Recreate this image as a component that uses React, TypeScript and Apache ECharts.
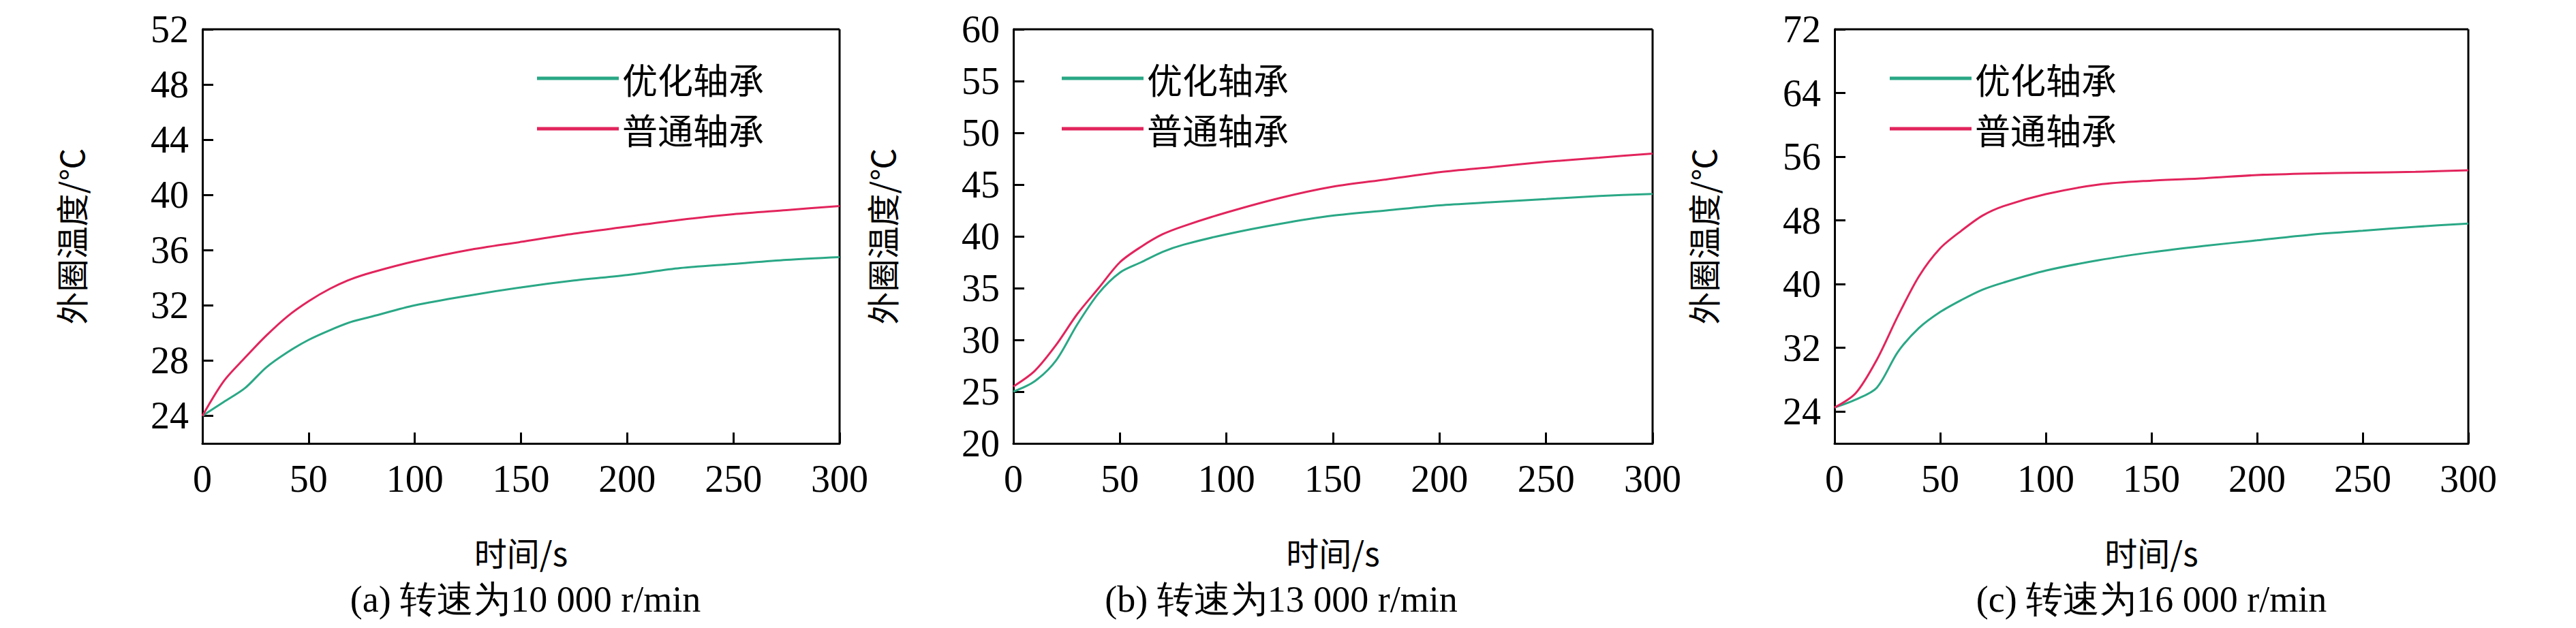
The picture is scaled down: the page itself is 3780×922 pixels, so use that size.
import React, { useEffect, useRef } from "react";
import * as echarts from "echarts";

const tA = [0, 10, 20, 30, 40, 50, 60, 70, 80, 100, 125, 150, 175, 200, 225, 250, 275, 300];
const aNormal = [24, 26.5, 28.2, 29.8, 31.2, 32.3, 33.2, 33.9, 34.4, 35.2, 36, 36.6, 37.2, 37.7, 38.2, 38.6, 38.9, 39.2];
const aOpt = [24, 25, 26, 27.5, 28.6, 29.5, 30.2, 30.8, 31.2, 32, 32.7, 33.3, 33.8, 34.2, 34.7, 35, 35.3, 35.5];
const bNormal = [25.5, 27, 29.5, 32.5, 35, 37.5, 39, 40.2, 41, 42.3, 43.7, 44.8, 45.5, 46.2, 46.7, 47.2, 47.6, 48];
const bOpt = [25, 26, 28, 31.5, 34.5, 36.5, 37.5, 38.5, 39.2, 40.2, 41.2, 42, 42.5, 43, 43.3, 43.6, 43.9, 44.1];
const cNormal = [24.5, 26.3, 30.5, 36, 41, 44.5, 46.7, 48.6, 49.8, 51.3, 52.5, 53, 53.3, 53.7, 53.9, 54, 54.1, 54.3];
const cOpt = [24.5, 25.5, 27, 31.5, 34.5, 36.5, 38, 39.3, 40.2, 41.7, 43, 44, 44.8, 45.5, 46.2, 46.7, 47.2, 47.6];

const yTicksA = [24, 28, 32, 36, 40, 44, 48, 52];
const yTicksC = [24, 32, 40, 48, 56, 64, 72];
const captions = ["(a) 转速为10 000 r/min", "(b) 转速为13 000 r/min", "(c) 转速为16 000 r/min"];

const GREEN = "#2aa886";
const RED = "#e2245c";
const SERIF = "Liberation Serif";
const CJK = "Noto Sans CJK SC";

const grids = [
  { left: 297, width: 935, cx: 771 },
  { left: 1487, width: 938, cx: 1880 },
  { left: 2692, width: 930, cx: 3157 },
];

const App = () => {
  const ref = useRef<HTMLDivElement>(null);

  useEffect(() => {
    document.body.style.margin = "0";
    if (!ref.current) return;
    const chart = echarts.init(ref.current, null, { renderer: "svg" });
    const lineStyle = { color: "#000", width: 3 };
    const tickLabel = { fontFamily: SERIF, fontSize: 56, color: "#000" };
    const nameStyle = { fontFamily: CJK, fontSize: 48, color: "#000" };

    const yAxes = [
      { min: 22, max: 52, ticks: yTicksA },
      { min: 20, max: 60, interval: 5 },
      { min: 20, max: 72, ticks: yTicksC },
    ].map((y, i) => ({
      type: "value",
      gridIndex: i,
      min: y.min,
      max: y.max,
      interval: y.interval,
      name: "外圈温度/℃",
      nameLocation: "middle",
      nameGap: 170,
      nameTextStyle: nameStyle,
      axisLine: { show: true, lineStyle },
      axisTick: {
        show: true,
        inside: true,
        length: 16,
        lineStyle,
        ...(y.ticks ? { customValues: y.ticks } : {}),
      },
      axisLabel: { ...tickLabel, margin: 20, ...(y.ticks ? { customValues: y.ticks } : {}) },
      splitLine: { show: false },
    }));

    const xAxes = grids.map((_, i) => ({
      type: "value",
      gridIndex: i,
      min: 0,
      max: 300,
      interval: 50,
      name: "时间/s",
      nameLocation: "middle",
      nameGap: 135,
      nameTextStyle: nameStyle,
      axisLine: { show: true, lineStyle },
      axisTick: { show: true, inside: true, length: 16, lineStyle },
      axisLabel: { ...tickLabel, margin: 24 },
      splitLine: { show: false },
    }));

    const pairs = [
      [aOpt, aNormal],
      [bOpt, bNormal],
      [cOpt, cNormal],
    ];
    const series: any[] = [];
    pairs.forEach(([opt, normal], i) => {
      series.push({
        name: "优化轴承",
        type: "line",
        xAxisIndex: i,
        yAxisIndex: i,
        data: tA.map((t, k) => [t, opt[k]]),
        showSymbol: false,
        smooth: 0.3,
        lineStyle: { color: GREEN, width: 3 },
        itemStyle: { color: GREEN },
      });
      series.push({
        name: "普通轴承",
        type: "line",
        xAxisIndex: i,
        yAxisIndex: i,
        data: tA.map((t, k) => [t, normal[k]]),
        showSymbol: false,
        smooth: 0.3,
        lineStyle: { color: RED, width: 3 },
        itemStyle: { color: RED },
      });
    });

    const legendLeft = [783, 1553, 2768];

    chart.setOption({
      animation: false,
      grid: grids.map((g) => ({ left: g.left, width: g.width, top: 43, height: 608 })),
      xAxis: xAxes,
      yAxis: yAxes,
      legend: legendLeft.map((l) => ({
        left: l,
        top: 84,
        orient: "vertical",
        itemWidth: 120,
        itemHeight: 5,
        itemGap: 22,
        icon: "rect",
        textStyle: { fontFamily: CJK, fontSize: 52, color: "#000" },
        data: ["优化轴承", "普通轴承"],
      })),
      series,
      graphic: [
        ...grids.flatMap((g) => [
          { type: "line", shape: { x1: g.left, y1: 43, x2: g.left + g.width, y2: 43 }, style: { stroke: "#000", lineWidth: 3 } },
          { type: "line", shape: { x1: g.left + g.width, y1: 43, x2: g.left + g.width, y2: 651 }, style: { stroke: "#000", lineWidth: 3 } },
        ]),
        ...grids.map((g, i) => ({
          type: "text",
          x: g.cx,
          y: 880,
          style: {
            text: captions[i],
            fontFamily: SERIF,
            fontSize: 54,
            fill: "#000",
            textAlign: "center",
            textVerticalAlign: "middle",
          },
        })),
      ],
    });
    return () => chart.dispose();
  }, []);

  return <div ref={ref} style={{ width: "3780px", height: "922px", background: "#fff" }} />;
};

export default App;
